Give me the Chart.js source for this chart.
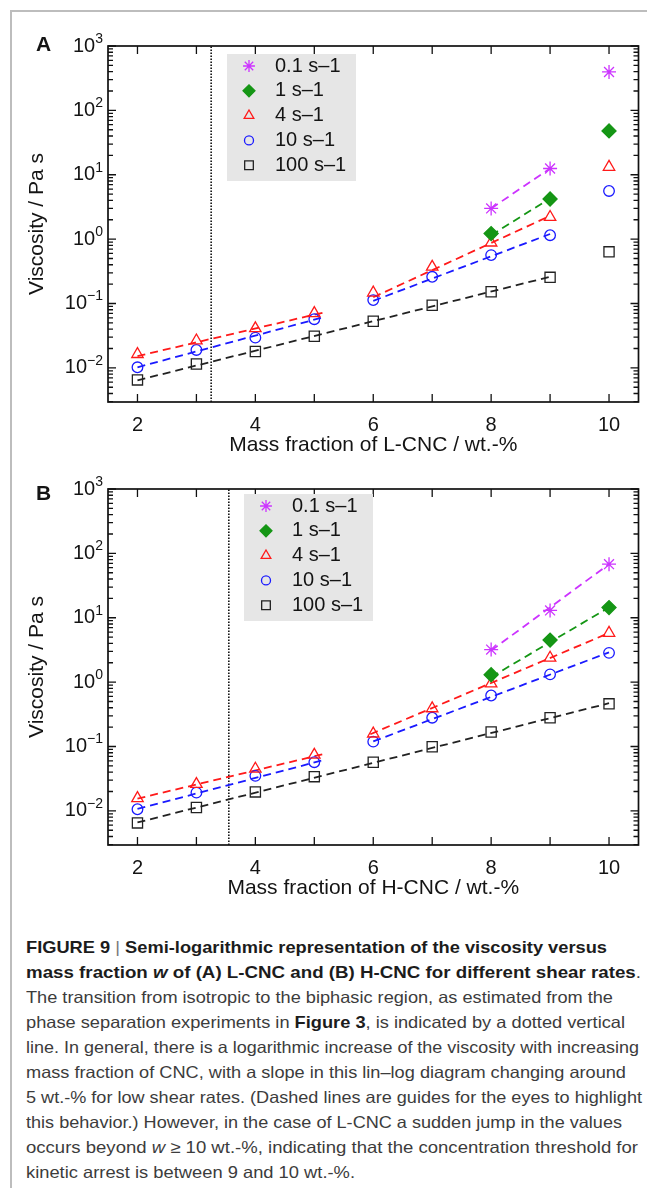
<!DOCTYPE html>
<html>
<head>
<meta charset="utf-8">
<script src="https://cdn.jsdelivr.net/npm/chart.js@4.4.0/dist/chart.umd.min.js"></script>
<style>
body { margin:0; width:647px; height:1188px; background:#fff; overflow:hidden; position:relative;
       font-family:"Liberation Sans", Arial, sans-serif; }
#frame { position:absolute; left:10px; top:10px; width:800px; height:1400px;
         border-top:2px solid #bdbdbd; border-left:2px solid #bdbdbd; }
canvas { position:absolute; left:0; }
#chartA { top:0; }
#chartB { top:443px; }
#caption { position:absolute; left:26px; top:935px; font-size:16.5px; line-height:25px; color:#3c3c3c; }
#caption .ln { white-space:nowrap; transform-origin:0 50%; }
#caption b { color:#1c1c1c; }
#caption .bar { font-weight:normal; color:#777; }
</style>
</head>
<body>
<div id="frame"></div>
<canvas id="chartA" width="647" height="460"></canvas>
<canvas id="chartB" width="647" height="460"></canvas>
<div id="caption">
<div class="ln"><span><b>FIGURE 9 <span class="bar">|</span> Semi-logarithmic representation of the viscosity versus</b></span></div>
<div class="ln"><span><b>mass fraction <i>w</i> of (A) L-CNC and (B) H-CNC for different shear rates</b>.</span></div>
<div class="ln"><span>The transition from isotropic to the biphasic region, as estimated from the</span></div>
<div class="ln"><span>phase separation experiments in <b>Figure 3</b>, is indicated by a dotted vertical</span></div>
<div class="ln"><span>line. In general, there is a logarithmic increase of the viscosity with increasing</span></div>
<div class="ln"><span>mass fraction of CNC, with a slope in this lin–log diagram changing around</span></div>
<div class="ln"><span>5 wt.-% for low shear rates. (Dashed lines are guides for the eyes to highlight</span></div>
<div class="ln"><span>this behavior.) However, in the case of L-CNC a sudden jump in the values</span></div>
<div class="ln"><span>occurs beyond <i>w</i> ≥ 10 wt.-%, indicating that the concentration threshold for</span></div>
<div class="ln"><span>kinetic arrest is between 9 and 10 wt.-%.</span></div>
</div>
<script>
// mass fraction (wt.-%) and shear rates
const massFraction = [2, 3, 4, 5, 6, 7, 8, 9, 10];
const rateLabels = ['0.1 s–1', '1 s–1', '4 s–1', '10 s–1', '100 s–1'];

// viscosity (Pa s), panel A: L-CNC
const lcnc01  = [null, null, null, null, null, null, 3.0, 12.5, 395];
const lcnc1   = [null, null, null, null, null, null, 1.22, 4.2, 48];
const lcnc4   = [0.0163, 0.0265, 0.041, 0.0705, 0.147, 0.37, 0.88, 2.2, 13.2];
const lcnc10  = [0.0102, 0.019, 0.0295, 0.057, 0.113, 0.26, 0.565, 1.15, 5.6];
const lcnc100 = [0.0065, 0.0115, 0.018, 0.031, 0.053, 0.094, 0.152, 0.255, 0.635];

// viscosity (Pa s), panel B: H-CNC
const hcnc01  = [null, null, null, null, null, null, 3.2, 13, 68];
const hcnc1   = [null, null, null, null, null, null, 1.3, 4.5, 14.4];
const hcnc4   = [0.0157, 0.026, 0.045, 0.074, 0.158, 0.39, 0.95, 2.38, 5.8];
const hcnc10  = [0.0106, 0.0192, 0.035, 0.057, 0.119, 0.28, 0.62, 1.32, 2.85];
const hcnc100 = [0.0065, 0.0113, 0.0197, 0.034, 0.057, 0.099, 0.168, 0.28, 0.46];

// dashed guide lines: end points and which shear rate they belong to
const lcncGuideX = [[8, 9], [8, 9], [2, 5.2], [6, 9], [2, 5.15], [6, 9], [2, 9]];
const lcncGuideY = [[3.0, 12.5], [1.15, 4.3], [0.0152, 0.074], [0.125, 2.3], [0.0102, 0.061], [0.11, 1.2], [0.0064, 0.26]];
const lcncGuideRate = [0, 1, 2, 2, 3, 3, 4];
const hcncGuideX = [[8, 10], [8, 10], [2, 5.15], [5.95, 10], [2, 5.2], [6, 10], [2, 10]];
const hcncGuideY = [[3.1, 68], [1.2, 14.5], [0.0155, 0.076], [0.155, 5.8], [0.0107, 0.063], [0.12, 2.9], [0.0066, 0.47]];
const hcncGuideRate = [0, 1, 2, 2, 3, 3, 4];

// isotropic -> biphasic transition (dotted line)
const transitionA = 3.25;
const transitionB = 3.55;

// axes
const xMin = 1.5, xMax = 10.5;
const yMin = 0.00295, yMax = 1000;
const yTickValues = [0.01, 0.1, 1, 10, 100, 1000];
const yTickExps = ['−2', '−1', '0', '1', '2', '3'];

const rateColors = ['#cc33ff', '#159615', '#ff1a1a', '#1a1aff', '#222222'];
const rateStyles = ['star', 'rectRot', 'triangle', 'circle', 'rect'];
const rateRadius = [7, 7, 6.6, 5.3, 7.2];
const ink = '#141414';
const fam = '"Liberation Sans", Arial, sans-serif';

const deco = {
  id: 'deco',
  afterDraw(chart, args, o) {
    const {ctx, chartArea: a, scales: {x, y}} = chart;
    ctx.save();
    // frame
    ctx.strokeStyle = '#111';
    ctx.lineWidth = 1.7;
    ctx.strokeRect(a.left, a.top, a.width, a.height);
    // inward ticks
    ctx.lineWidth = 1.3;
    ctx.beginPath();
    massFraction.forEach(v => {
      const px = x.getPixelForValue(v);
      ctx.moveTo(px, a.bottom); ctx.lineTo(px, a.bottom - 8);
      ctx.moveTo(px, a.top); ctx.lineTo(px, a.top + 8);
    });
    yTickValues.forEach(v => {
      const py = y.getPixelForValue(v);
      ctx.moveTo(a.left, py); ctx.lineTo(a.left + 8, py);
      ctx.moveTo(a.right, py); ctx.lineTo(a.right - 8, py);
    });
    for (let e = -3; e <= 2; e++) {
      for (let m = 2; m <= 9; m++) {
        const v = m * Math.pow(10, e);
        if (v < yMin || v > yMax) continue;
        const py = y.getPixelForValue(v);
        ctx.moveTo(a.left, py); ctx.lineTo(a.left + 5, py);
        ctx.moveTo(a.right, py); ctx.lineTo(a.right - 5, py);
      }
    }
    ctx.stroke();

    // y tick labels 10^n
    ctx.fillStyle = ink;
    ctx.textBaseline = 'middle';
    ctx.textAlign = 'left';
    yTickValues.forEach((v, i) => {
      const py = y.getPixelForValue(v);
      ctx.font = '14px ' + fam;
      const we = ctx.measureText(yTickExps[i]).width;
      ctx.font = '20px ' + fam;
      const wb = ctx.measureText('10').width;
      const right = a.left - 5;
      ctx.fillText('10', right - we - wb, py);
      ctx.font = '14px ' + fam;
      ctx.fillText(yTickExps[i], right - we, py - 7);
    });

    // panel letter
    ctx.font = 'bold 21px ' + fam;
    ctx.fillText(o.letter, 36, a.top + o.letterDy);

    // legend box
    const bx = a.left + o.legendLeft, by = a.top + o.legendTop;
    ctx.fillStyle = '#e6e6e6';
    ctx.fillRect(bx, by, 129, 127);
    rateLabels.forEach((label, i) => {
      const ds = chart.data.datasets[i];
      const cy = by + 12 + i * 24.8;
      ctx.fillStyle = ds.backgroundColor;
      ctx.strokeStyle = ds.borderColor;
      ctx.lineWidth = ds.borderWidth;
      Chart.helpers.drawPoint(ctx, {pointStyle: ds.pointStyle, radius: ds.pointRadius * 0.85, rotation: 0, borderWidth: ds.borderWidth}, bx + 22, cy);
      ctx.fillStyle = ink;
      ctx.font = '20px ' + fam;
      ctx.fillText(label, bx + 48, cy);
    });
    ctx.restore();
  }
};

function makeChart(id, series, gx, gy, grate, transition, xTitle, decoOpts) {
  const datasets = [];
  series.forEach((vals, i) => {
    datasets.push({
      label: rateLabels[i],
      data: massFraction.map((m, j) => ({x: m, y: vals[j]})).filter(p => p.y !== null),
      showLine: false,
      pointStyle: rateStyles[i],
      pointRadius: rateRadius[i],
      borderColor: rateColors[i],
      backgroundColor: i === 1 ? rateColors[i] : 'rgba(0,0,0,0)',
      borderWidth: 1.3
    });
  });
  gx.forEach((xs, k) => {
    datasets.push({
      label: '',
      data: xs.map((m, j) => ({x: m, y: gy[k][j]})),
      showLine: true,
      pointRadius: 0,
      borderColor: rateColors[grate[k]],
      borderWidth: 1.8,
      borderDash: [8, 5]
    });
  });
  datasets.push({
    label: '',
    data: [{x: transition, y: yMin}, {x: transition, y: yMax}],
    showLine: true,
    pointRadius: 0,
    borderColor: '#000',
    borderWidth: 1.5,
    borderDash: [1.5, 1.5]
  });

  return new Chart(document.getElementById(id), {
    type: 'scatter',
    data: {datasets},
    plugins: [deco],
    options: {
      responsive: false,
      animation: false,
      events: [],
      layout: {padding: {top: 46, right: 6, left: 0, bottom: 0}},
      plugins: {
        legend: {display: false},
        tooltip: {enabled: false},
        deco: decoOpts
      },
      scales: {
        x: {
          type: 'linear', min: xMin, max: xMax,
          grid: {display: false}, border: {display: false},
          afterBuildTicks: s => { s.ticks = massFraction.map(v => ({value: v})); },
          afterFit: s => { s.height = 58; },
          ticks: {padding: 3, color: ink, autoSkip: false, maxRotation: 0,
                  font: {family: fam, size: 20},
                  callback: v => (v % 2 === 0 ? String(v) : '')},
          title: {display: true, text: xTitle, color: ink,
                  font: {family: fam, size: 21}, padding: {top: 0, bottom: 2.4}}
        },
        y: {
          type: 'logarithmic', min: yMin, max: yMax,
          grid: {display: false}, border: {display: false},
          ticks: {display: false},
          afterFit: s => { s.width = 108; },
          title: {display: true, text: 'Viscosity / Pa s', color: ink,
                  font: {family: fam, size: 21}, padding: {top: 24.4, bottom: 0}}
        }
      }
    }
  });
}

makeChart('chartA', [lcnc01, lcnc1, lcnc4, lcnc10, lcnc100], lcncGuideX, lcncGuideY, lcncGuideRate,
  transitionA, 'Mass fraction of L-CNC / wt.-%', {letter: 'A', letterDy: -1, legendLeft: 119, legendTop: 8});
makeChart('chartB', [hcnc01, hcnc1, hcnc4, hcnc10, hcnc100], hcncGuideX, hcncGuideY, hcncGuideRate,
  transitionB, 'Mass fraction of H-CNC / wt.-%', {letter: 'B', letterDy: 5, legendLeft: 136, legendTop: 5});

// squeeze each caption line to the width it has in the printed figure
const captionRight = [607, 641, 613, 625, 639, 626, 642, 622, 638, 355];
document.querySelectorAll('#caption .ln').forEach((el, i) => {
  const w = el.firstElementChild.getBoundingClientRect().width;
  el.style.transform = 'scaleX(' + ((captionRight[i] - 26) / w).toFixed(4) + ')';
});
</script>
</body>
</html>
